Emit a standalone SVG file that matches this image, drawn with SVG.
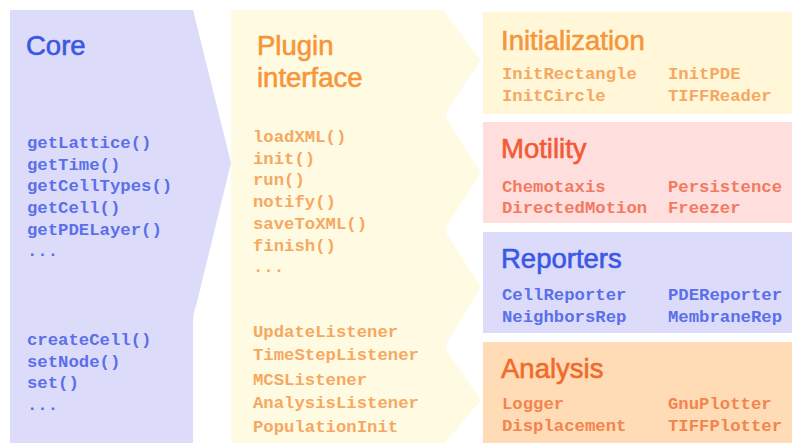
<svg xmlns="http://www.w3.org/2000/svg" width="792" height="446" viewBox="0 0 792 446">
<style>
.title{font-family:"Liberation Sans",Arial,sans-serif;font-size:27.5px;stroke-width:0.6px}
.mono{font-family:"Liberation Mono","Courier New",monospace;font-size:17.3px;font-weight:bold}
.blueT{fill:#3b57e6;stroke:#3b57e6}
.blueM{fill:#5b6fea}
.orT{fill:#f6953a;stroke:#f6953a}
.orM{fill:#f6a862}
.redT{fill:#f25a35;stroke:#f25a35}
.redM{fill:#f27a5e}
.anT{fill:#f26a2a;stroke:#f26a2a}
.anM{fill:#f3844e}
</style>
<rect width="792" height="446" fill="#ffffff"/>
<g id="core">
<path d="M10,10 L193,10 L231,163 L196,306 Q193,313 193,322 L193,443 L10,443 Z" fill="#dcdcfa"/>
<text class="title blueT" x="26" y="55">Core</text>
<g class="mono blueM">
<text x="27" y="148">getLattice()</text>
<text x="27" y="170">getTime()</text>
<text x="27" y="191">getCellTypes()</text>
<text x="27" y="213">getCell()</text>
<text x="27" y="235">getPDELayer()</text>
<text x="27" y="256">...</text>
<text x="27" y="345">createCell()</text>
<text x="27" y="367">setNode()</text>
<text x="27" y="388">set()</text>
<text x="27" y="410">...</text>
</g>
</g>
<g id="plugin">
<path d="M231,10 L443,10 L481,60 L448,109 Q444,115 448,121 L481,173 L448,224 Q444,230 448,236 L481,287 L448,341 Q444,347 448,353 L481,400 L445,443 L231,443 Z" fill="#fffbe2"/>
<text class="title orT" x="257" y="55">Plugin</text>
<text class="title orT" x="257" y="87">interface</text>
<g class="mono orM">
<text x="253" y="142">loadXML()</text>
<text x="253" y="164">init()</text>
<text x="253" y="185">run()</text>
<text x="253" y="207">notify()</text>
<text x="253" y="229">saveToXML()</text>
<text x="253" y="251">finish()</text>
<text x="253" y="272">...</text>
<text x="253" y="337">UpdateListener</text>
<text x="253" y="360">TimeStepListener</text>
<text x="253" y="385">MCSListener</text>
<text x="253" y="408">AnalysisListener</text>
<text x="253" y="432">PopulationInit</text>
</g>
</g>
<g id="initialization">
<rect x="483" y="12" width="309" height="102" fill="#fff7d8"/>
<text class="title orT" x="501" y="50">Initialization</text>
<g class="mono orM">
<text x="502" y="79">InitRectangle</text>
<text x="502" y="101">InitCircle</text>
<text x="668" y="79">InitPDE</text>
<text x="668" y="101">TIFFReader</text>
</g>
</g>
<g id="motility">
<rect x="483" y="122" width="309" height="101" fill="#ffdede"/>
<text class="title redT" x="501" y="158">Motility</text>
<g class="mono redM">
<text x="502" y="192">Chemotaxis</text>
<text x="502" y="213">DirectedMotion</text>
<text x="668" y="192">Persistence</text>
<text x="668" y="213">Freezer</text>
</g>
</g>
<g id="reporters">
<rect x="483" y="232" width="309" height="101" fill="#dcdcfa"/>
<text class="title blueT" x="501" y="268">Reporters</text>
<g class="mono blueM">
<text x="502" y="300">CellReporter</text>
<text x="502" y="322">NeighborsRep</text>
<text x="668" y="300">PDEReporter</text>
<text x="668" y="322">MembraneRep</text>
</g>
</g>
<g id="analysis">
<rect x="483" y="342" width="309" height="101" fill="#ffdcb6"/>
<text class="title anT" x="501" y="378">Analysis</text>
<g class="mono anM">
<text x="502" y="409">Logger</text>
<text x="502" y="431">Displacement</text>
<text x="668" y="409">GnuPlotter</text>
<text x="668" y="431">TIFFPlotter</text>
</g>
</g>
<g id="connectors"></g>
</svg>
